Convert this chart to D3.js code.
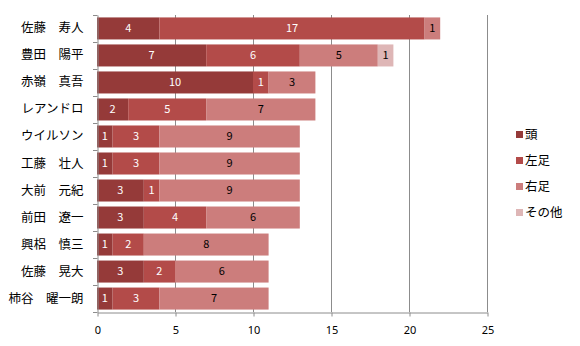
<!DOCTYPE html>
<html>
<head>
<meta charset="utf-8">
<script src="https://cdn.jsdelivr.net/npm/d3@7"></script>
<style>
  html, body { margin: 0; padding: 0; background: #fff; }
  svg { display: block; font-family: "Noto Sans CJK JP", "Noto Sans", sans-serif; }
</style>
</head>
<body>
<svg id="chart" width="580" height="346"></svg>
<script>
// Players, top to bottom
const players = ["佐藤　寿人", "豊田　陽平", "赤嶺　真吾", "レアンドロ", "ウイルソン", "工藤　壮人",
                 "大前　元紀", "前田　遼一", "興梠　慎三", "佐藤　晃大", "柿谷　曜一朗"];
// Goals by body part
const seriesNames = ["頭", "左足", "右足", "その他"];
const head      = [4, 7, 10, 2, 1, 1, 3, 3, 1, 3, 1];
const leftFoot  = [17, 6, 1, 5, 3, 3, 1, 4, 2, 2, 3];
const rightFoot = [1, 5, 3, 7, 9, 9, 9, 6, 8, 6, 7];
const other     = [0, 1, 0, 0, 0, 0, 0, 0, 0, 0, 0];
const xTicks = [0, 5, 10, 15, 20, 25];

const colors = ["#953a39", "#b34b49", "#cc7d7c", "#deb6b6"];
const labelColors = ["#ffffff", "#ffffff", "#000000", "#000000"];

const rows = players.map((p, i) => ({
  name: p, "頭": head[i], "左足": leftFoot[i], "右足": rightFoot[i], "その他": other[i]
}));
const stacked = d3.stack().keys(seriesNames)(rows);

const svg = d3.select("#chart");
const plotLeft = 97, plotRight = 487, plotTop = 15, plotBottom = 312;

const x = d3.scaleLinear().domain([0, 25]).range([plotLeft, plotRight]);
const y = d3.scaleBand().domain(players).range([plotTop, plotBottom]).paddingInner(0.185).paddingOuter(0.09);

// Vertical gridlines
svg.append("g").selectAll("line").data(xTicks.filter(t => t > 0)).join("line")
  .attr("x1", d => x(d) + 0.5).attr("x2", d => x(d) + 0.5)
  .attr("y1", plotTop).attr("y2", plotBottom)
  .attr("stroke", "#8c8c8c").attr("stroke-width", 1);

// Stacked bars
const layers = svg.append("g").selectAll("g").data(stacked).join("g")
  .attr("fill", (d, i) => colors[i]);
layers.selectAll("rect").data(d => d.map(v => ({ v, name: v.data.name }))).join("rect")
  .attr("x", d => x(d.v[0]))
  .attr("y", d => y(d.name))
  .attr("width", d => x(d.v[1]) - x(d.v[0]))
  .attr("height", y.bandwidth());

// Segment value labels
stacked.forEach((layer, si) => {
  svg.append("g").selectAll("text")
    .data(layer.filter(v => v[1] - v[0] > 0))
    .join("text")
    .attr("x", v => (x(v[0]) + x(v[1])) / 2)
    .attr("y", v => y(v.data.name) + y.bandwidth() / 2)
    .attr("dy", "0.35em")
    .attr("text-anchor", "middle")
    .attr("font-size", 11)
    .attr("fill", labelColors[si])
    .text(v => v[1] - v[0]);
});

// Category axis
const yAxis = d3.axisLeft(y).tickSize(0).tickPadding(6);
const yg = svg.append("g").attr("transform", `translate(${plotLeft + 0.5},0)`).call(yAxis);
yg.select(".domain").attr("stroke", "#8c8c8c");
yg.selectAll("text").attr("font-size", 12.5).attr("fill", "#000")
  .attr("font-family", "\"Noto Sans CJK JP\", sans-serif").attr("x", -14);
// tick marks between categories
const bounds = d3.range(players.length + 1).map(i => plotTop + i * (plotBottom - plotTop) / players.length);
svg.append("g").selectAll("line").data(bounds).join("line")
  .attr("x1", plotLeft - 4).attr("x2", plotLeft + 0.5)
  .attr("y1", d => Math.round(d) + 0.5).attr("y2", d => Math.round(d) + 0.5)
  .attr("stroke", "#8c8c8c");

// Value axis
const xAxis = d3.axisBottom(x).tickValues(xTicks).tickSize(4).tickPadding(10).tickSizeOuter(0);
const xg = svg.append("g").attr("transform", `translate(0.5,${plotBottom + 0.5})`).call(xAxis);
xg.select(".domain").attr("stroke", "#8c8c8c");
xg.selectAll(".tick line").attr("stroke", "#8c8c8c");
xg.selectAll("text").attr("font-size", 11).attr("fill", "#000")
  .attr("font-family", "\"Noto Sans\", sans-serif");

// Legend
const legend = svg.append("g").attr("transform", "translate(516,135)");
seriesNames.forEach((s, i) => {
  const g = legend.append("g").attr("transform", `translate(0,${i * 26})`);
  g.append("rect").attr("x", 0).attr("y", -4).attr("width", 7).attr("height", 7).attr("fill", colors[i]);
  g.append("text").attr("x", 9).attr("y", 0).attr("dy", "0.35em")
    .attr("font-size", 12.5).attr("fill", "#000").text(s);
});
</script>
</body>
</html>
